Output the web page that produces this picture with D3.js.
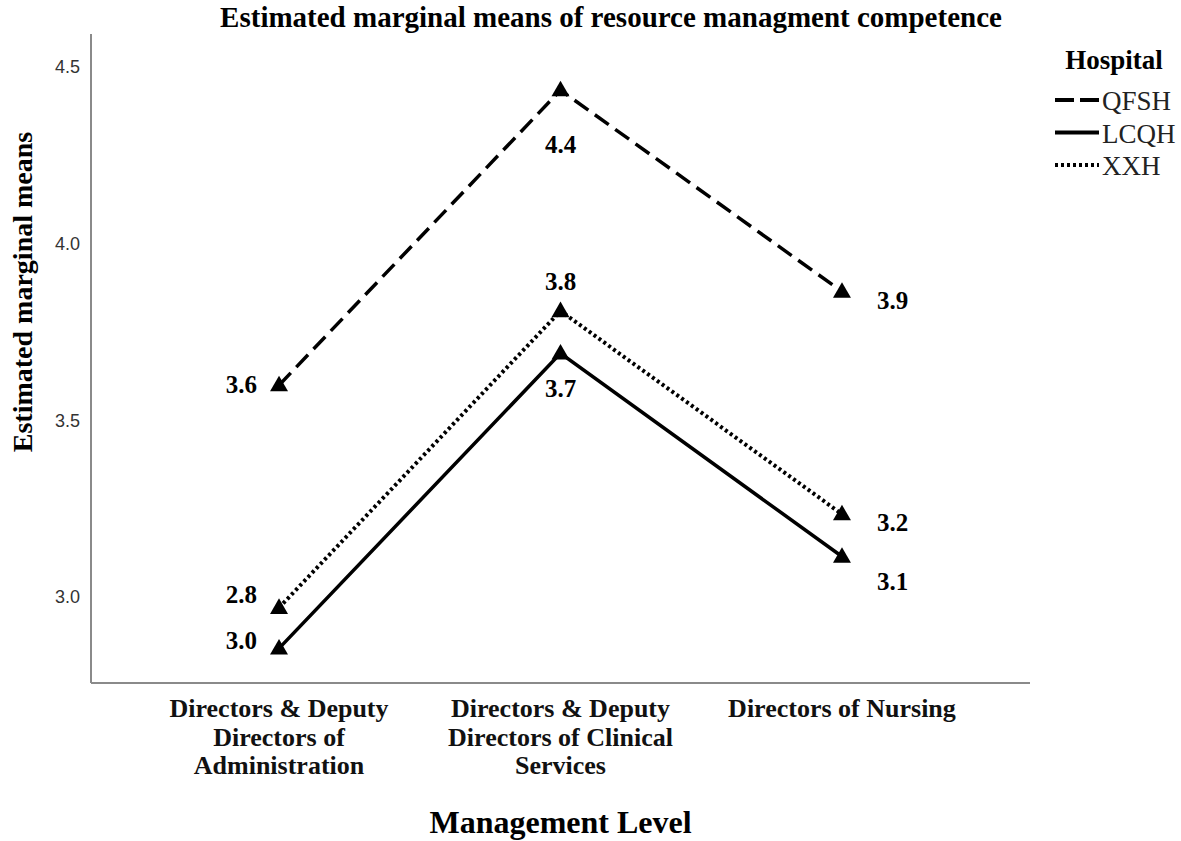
<!DOCTYPE html>
<html lang="en">
<head>
<meta charset="UTF-8">
<title>Estimated marginal means</title>
<script src="https://d3js.org/d3.v7.min.js"></script>
<style>
  body { margin: 0; background: #fff; }
</style>
</head>
<body>
<script>
    // categories on the x axis
    var levels = ["admin", "clinical", "nursing"];
    var levelLabels = [
        ["Directors & Deputy", "Directors of", "Administration"],
        ["Directors & Deputy", "Directors of Clinical", "Services"],
        ["Directors of Nursing"]
    ];
    var hospitals = ["QFSH", "LCQH", "XXH"];

    // estimated means
    var qfsh = [3.60, 4.435, 3.865];
    var lcqh = [2.855, 3.69, 3.115];
    var xxh = [2.97, 3.81, 3.235];

    // printed value labels (as shown in the figure)
    var qfshLabels = ["3.6", "4.4", "3.9"];
    var lcqhLabels = ["3.0", "3.7", "3.1"];
    var xxhLabels = ["2.8", "3.8", "3.2"];

    var yTicks = [3.0, 3.5, 4.0, 4.5];

    // label placement: [dx, dy] from the point
    var qfshPos = [[-22, 8], [0, 63], [35, 17]];
    var lcqhPos = [[-22, 1], [0, 44], [35, 33]];
    var xxhPos = [[-22, -5], [0, -21], [35, 17]];

    var W = 1181,
        H = 841,
        mLeft = 91,
        mRight = 1030,
        mTop = 34,
        mBottom = 683;

    var series = [
        {name: hospitals[0], values: qfsh, labels: qfshLabels, pos: qfshPos, dash: "17,8"},
        {name: hospitals[1], values: lcqh, labels: lcqhLabels, pos: lcqhPos, dash: null},
        {name: hospitals[2], values: xxh, labels: xxhLabels, pos: xxhPos, dash: "3,3"}
    ];

    var svg = d3.select("body").append("svg")
        .attr("width", W)
        .attr("height", H);

    var x = d3.scalePoint()
        .domain(levels)
        .range([mLeft, mRight])
        .padding(0.668);

    var y = d3.scaleLinear()
        .domain([2.757, 4.594])
        .range([mBottom, mTop]);

    // title
    svg.append("text")
        .attr("x", 611)
        .attr("y", 27)
        .attr("text-anchor", "middle")
        .attr("font-family", "Liberation Serif")
        .attr("font-weight", "bold")
        .attr("font-size", "29px")
        .text("Estimated marginal means of resource managment competence");

    // y axis
    var yAxis = d3.axisLeft(y)
        .tickValues(yTicks)
        .tickSize(0)
        .tickPadding(11)
        .tickFormat(d3.format(".1f"));

    var gy = svg.append("g")
        .attr("transform", "translate(" + mLeft + ",0)")
        .call(yAxis);
    gy.select(".domain").remove();
    gy.selectAll("text")
        .attr("font-family", "Liberation Sans")
        .attr("font-size", "18px")
        .attr("fill", "#333");

    // frame lines (left and bottom)
    svg.append("line")
        .attr("x1", mLeft).attr("x2", mLeft)
        .attr("y1", mTop).attr("y2", mBottom)
        .attr("stroke", "#8a8a8a").attr("stroke-width", 2);
    svg.append("line")
        .attr("x1", mLeft).attr("x2", mRight)
        .attr("y1", mBottom).attr("y2", mBottom)
        .attr("stroke", "#8a8a8a").attr("stroke-width", 2);

    // y axis title
    svg.append("text")
        .attr("transform", "translate(32,292) rotate(-90)")
        .attr("text-anchor", "middle")
        .attr("font-family", "Liberation Serif")
        .attr("font-weight", "bold")
        .attr("font-size", "28px")
        .text("Estimated marginal means");

    // x category labels
    var xl = svg.append("g").selectAll("text")
        .data(levels)
        .enter()
        .append("text")
        .attr("text-anchor", "middle")
        .attr("font-family", "Liberation Serif")
        .attr("font-weight", "bold")
        .attr("font-size", "26px")
        .attr("fill", "#111");
    xl.each(function (d, i) {
        var t = d3.select(this);
        levelLabels[i].forEach(function (line, j) {
            t.append("tspan")
                .attr("x", x(d))
                .attr("y", 717 + j * 28.5)
                .text(line);
        });
    });

    // x axis title
    svg.append("text")
        .attr("x", x(levels[1]))
        .attr("y", 833)
        .attr("text-anchor", "middle")
        .attr("font-family", "Liberation Serif")
        .attr("font-weight", "bold")
        .attr("font-size", "32px")
        .text("Management Level");

    var line = d3.line()
        .x(function (d, i) { return x(levels[i]); })
        .y(function (d) { return y(d); });

    var tri = d3.symbol().type(d3.symbolTriangle).size(140);

    series.forEach(function (s) {
        svg.append("path")
            .datum(s.values)
            .attr("d", line)
            .attr("fill", "none")
            .attr("stroke", "#000")
            .attr("stroke-width", s.dash === "3,3" ? 4 : 3.5)
            .attr("stroke-dasharray", s.dash);

        svg.append("g").selectAll("path")
            .data(s.values)
            .enter()
            .append("path")
            .attr("d", tri)
            .attr("transform", function (d, i) {
                return "translate(" + x(levels[i]) + "," + (y(d) + 1) + ")";
            })
            .attr("fill", "#000");

        svg.append("g").selectAll("text")
            .data(s.values)
            .enter()
            .append("text")
            .attr("x", function (d, i) { return x(levels[i]) + s.pos[i][0]; })
            .attr("y", function (d, i) { return y(d) + s.pos[i][1]; })
            .attr("text-anchor", function (d, i) {
                return s.pos[i][0] < 0 ? "end" : (s.pos[i][0] > 0 ? "start" : "middle");
            })
            .attr("font-family", "Liberation Serif")
            .attr("font-weight", "bold")
            .attr("font-size", "25px")
            .text(function (d, i) { return s.labels[i]; });
    });

    // legend
    var legend = svg.append("g");
    legend.append("text")
        .attr("x", 1114)
        .attr("y", 69)
        .attr("text-anchor", "middle")
        .attr("font-family", "Liberation Serif")
        .attr("font-weight", "bold")
        .attr("font-size", "27px")
        .text("Hospital");

    series.forEach(function (s, i) {
        var ly = 100 + i * 32.5;
        legend.append("line")
            .attr("x1", 1055).attr("x2", 1099)
            .attr("y1", ly).attr("y2", ly)
            .attr("stroke", "#000")
            .attr("stroke-width", 4)
            .attr("stroke-dasharray", s.dash === "17,8" ? "19,6" : s.dash);
        legend.append("text")
            .attr("x", 1102)
            .attr("y", ly + 10)
            .attr("font-family", "Liberation Serif")
            .attr("font-size", "27px")
            .attr("fill", "#222")
            .text(s.name);
    });
</script>
</body>
</html>
